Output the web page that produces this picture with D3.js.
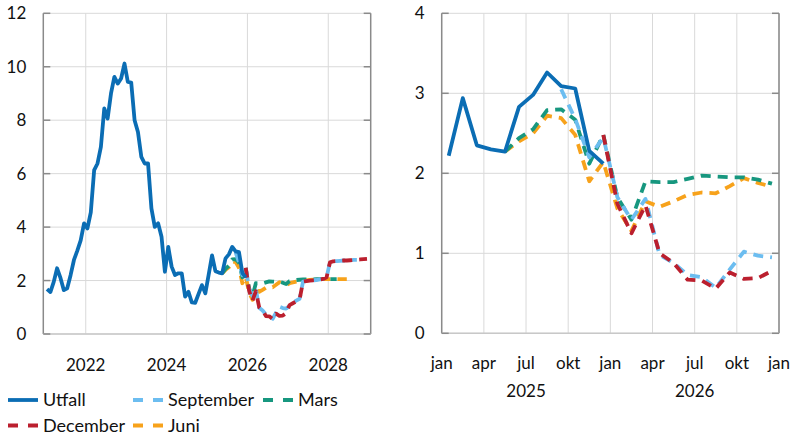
<!DOCTYPE html>
<html><head><meta charset="utf-8">
<script src="https://cdn.jsdelivr.net/npm/d3@7"></script>
<style>
body{margin:0;background:#fff}
svg{display:block}
text{font-family:Lato,'Open Sans',sans-serif;fill:#111}
</style>
</head><body><svg id="c" width="792" height="437"></svg>
<script>
// ---------- DATA ----------
const utfallStart = [2021, 0];
const utfall = [
  1.68, 1.57, 1.95, 2.46, 2.10, 1.64, 1.71, 2.20, 2.77, 3.12, 3.50, 4.14,
  3.95, 4.55, 6.13, 6.38, 7.00, 8.44, 8.06, 9.00, 9.62, 9.37, 9.56, 10.12,
  9.43, 9.41, 8.00, 7.56, 6.63, 6.38, 6.38, 4.70, 4.01, 4.14, 3.64, 2.33,
  3.26, 2.52, 2.21, 2.27, 2.27, 1.40, 1.58, 1.18, 1.17, 1.50, 1.83, 1.52,
  2.22, 2.94, 2.35, 2.30, 2.27, 2.83, 2.98, 3.26, 3.09, 3.06, 2.28, 2.12
];
const septemberStart = [2025, 8];
const september = [
  3.05, 2.68, 2.20, 2.45,
  1.70, 1.42, 1.68, 0.98, 0.88, 0.73, 0.70, 0.57, 0.80, 1.02, 0.97, 0.95,
  1.05, 1.15, 1.25, 1.32, 1.96, 1.98, 2.00, 2.01, 2.02, 2.04, 2.06, 2.12,
  2.68, 2.72, 2.73, 2.74, 2.75, 2.75, 2.76, 2.77, 2.77
];
const marsStart = [2025, 4];
const mars = [
  2.27, 2.44, 2.55, 2.79, 2.80, 2.67, 2.12, 2.48,
  1.70, 1.42, 1.90, 1.89, 1.89, 1.93, 1.97, 1.96, 1.95, 1.95, 1.92, 1.87,
  1.98, 2.01, 2.02, 2.03, 2.04, 2.04, 2.04, 2.04, 2.05, 2.05, 2.05, 2.05,
  2.05, 2.05, 2.05
];
const decemberStart = [2025, 11];
const december = [
  2.48,
  1.62, 1.25, 1.60, 1.00, 0.88, 0.67, 0.66, 0.56, 0.76, 0.68, 0.69, 0.78,
  1.08, 1.15, 1.22, 1.30, 1.96, 1.98, 2.00, 2.01, 2.02, 2.04, 2.06, 2.12,
  2.68, 2.72, 2.73, 2.74, 2.75, 2.75, 2.76, 2.77, 2.78, 2.79, 2.80, 2.81
];
const juniStart = [2025, 4];
const juni = [
  2.27, 2.40, 2.50, 2.72, 2.69, 2.48, 1.90, 2.14,
  1.56, 1.28, 1.65, 1.58, 1.65, 1.73, 1.76, 1.75, 1.84, 1.94, 1.88, 1.83,
  1.90, 1.93, 1.96, 1.98, 2.00, 2.01, 2.02, 2.03, 2.04, 2.05, 2.05, 2.05,
  2.05, 2.05, 2.05, 2.05, 2.05, 2.05
];
const leftYTicks = [0, 2, 4, 6, 8, 10, 12];
const leftXTicks = [2022, 2024, 2026, 2028];
const rightYTicks = [0, 1, 2, 3, 4];
const rightMonthLabels = ["jan", "apr", "jul", "okt", "jan", "apr", "jul", "okt", "jan"];
const rightYearLabels = ["2025", "2026"];
const seriesNames = ["Utfall", "September", "Mars", "December", "Juni"];
const seriesColors = ["#0b6db4", "#6cbdf0", "#17977f", "#bb1f2e", "#f7a21b"];

// ---------- BUILD ----------
function toPoints(start, vals) {
  return vals.map((v, i) => {
    const m = start[1] + i;
    return { t: start[0] + (m + 0.5) / 12, v };
  });
}
const series = [
  { name: seriesNames[0], color: seriesColors[0], dash: null, pts: toPoints(utfallStart, utfall) },
  { name: seriesNames[1], color: seriesColors[1], dash: "10,7", pts: toPoints(septemberStart, september) },
  { name: seriesNames[2], color: seriesColors[2], dash: "10,7", pts: toPoints(marsStart, mars) },
  { name: seriesNames[3], color: seriesColors[3], dash: "10,7", pts: toPoints(decemberStart, december) },
  { name: seriesNames[4], color: seriesColors[4], dash: "10,7", pts: toPoints(juniStart, juni) }
];
const drawOrder = [4, 2, 1, 3, 0];

const svg = d3.select("#c");
const gridCol = "#d9d9d9", axisCol = "#8a8a8a";

function panel(opts) {
  const { x, y, yTicks, xGrid, filter } = opts;
  const g = svg.append("g");
  const [x0, x1] = x.range();
  const [y0, y1] = y.range();
  g.selectAll(".hg").data(yTicks).join("line")
    .attr("x1", x0).attr("x2", x1).attr("y1", d => y(d)).attr("y2", d => y(d))
    .attr("stroke", gridCol).attr("stroke-width", 1);
  g.selectAll(".vg").data(xGrid).join("line")
    .attr("x1", d => x(d)).attr("x2", d => x(d)).attr("y1", y0).attr("y2", y1)
    .attr("stroke", gridCol).attr("stroke-width", 1);
  const yAx = d3.axisLeft(y).tickValues(yTicks).tickSize(0).tickPadding(17).tickFormat(d3.format("d"));
  const ga = g.append("g").attr("transform", `translate(${x0},0)`).call(yAx);
  ga.select(".domain").remove();
  ga.selectAll("text").attr("font-size", 17).attr("fill", "#111")
    .style("font-family", "Lato,'Open Sans',sans-serif");
  g.append("line").attr("x1", x0).attr("x2", x0).attr("y1", y0).attr("y2", y1).attr("stroke", axisCol).attr("stroke-width", 1.5);
  g.append("line").attr("x1", x1).attr("x2", x1).attr("y1", y0).attr("y2", y1).attr("stroke", axisCol).attr("stroke-width", 1.5);
  g.append("line").attr("x1", x0).attr("x2", x1).attr("y1", y0).attr("y2", y0).attr("stroke", "#c8c8c8").attr("stroke-width", 1.5);
  g.selectAll(".lt").data(yTicks).join("line")
    .attr("x1", x0).attr("x2", x0 + 7).attr("y1", d => y(d)).attr("y2", d => y(d))
    .attr("stroke", axisCol).attr("stroke-width", 1.5);
  g.selectAll(".rt").data(yTicks).join("line")
    .attr("x1", x1 - 7).attr("x2", x1).attr("y1", d => y(d)).attr("y2", d => y(d))
    .attr("stroke", axisCol).attr("stroke-width", 1.5);
  const line = d3.line().x(d => x(d.t)).y(d => y(d.v)).curve(d3.curveLinear);
  drawOrder.forEach(i => {
    const s = series[i];
    const pts = s.pts.filter(filter);
    if (pts.length < 2) return;
    g.append("path").attr("d", line(pts)).attr("fill", "none")
      .attr("stroke", s.color).attr("stroke-width", 3.8)
      .attr("stroke-linejoin", "round")
      .attr("stroke-dasharray", s.dash);
  });
  return g;
}

// left panel
const xL = d3.scaleLinear().domain([2020.95, 2029.05]).range([43.3, 370.7]);
const yL = d3.scaleLinear().domain([0, 12]).range([334, 13.3]);
const gl = panel({ x: xL, y: yL, yTicks: leftYTicks, xGrid: leftXTicks, filter: () => true });
gl.selectAll(".xl").data(leftXTicks).join("text")
  .attr("x", d => xL(d)).attr("y", 371).attr("text-anchor", "middle")
  .attr("font-size", 17).text(d => d);

// right panel
const xR = d3.scaleLinear().domain([2025, 2027]).range([441.7, 779]);
const yR = d3.scaleLinear().domain([0, 4]).range([333.3, 13.3]);
const rTicks = rightMonthLabels.map((_, i) => 2025 + i * 0.25);
const gr = panel({ x: xR, y: yR, yTicks: rightYTicks, xGrid: rTicks, filter: d => d.t >= 2025 && d.t <= 2027 });
gr.selectAll(".xm").data(rightMonthLabels).join("text")
  .attr("x", (d, i) => xR(rTicks[i])).attr("y", 369).attr("text-anchor", "middle")
  .attr("font-size", 17).text(d => d);
gr.selectAll(".xy").data(rightYearLabels).join("text")
  .attr("x", d => xR(+d + 0.5)).attr("y", 397).attr("text-anchor", "middle")
  .attr("font-size", 17).text(d => d);

// legend
const legendPos = [
  { x: 8, y: 400 }, { x: 133, y: 400 }, { x: 263, y: 400 },
  { x: 8, y: 425.5 }, { x: 133, y: 425.5 }
];
const lg = svg.append("g");
series.forEach((s, i) => {
  const p = legendPos[i];
  lg.append("line").attr("x1", p.x).attr("x2", p.x + 30).attr("y1", p.y).attr("y2", p.y)
    .attr("stroke", s.color).attr("stroke-width", 3.8)
    .attr("stroke-dasharray", s.dash ? "10,10" : null);
  lg.append("text").attr("x", p.x + 35).attr("y", p.y + 6.2)
    .attr("font-size", 18).text(s.name);
});
</script>
</body></html>
